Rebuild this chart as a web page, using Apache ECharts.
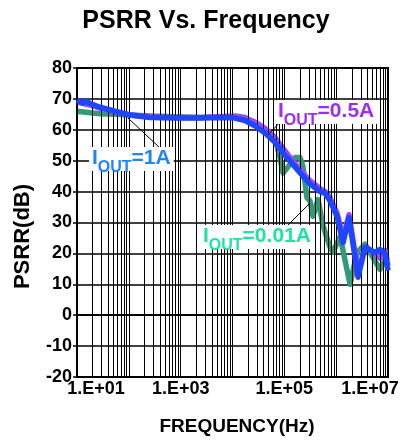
<!DOCTYPE html>
<html>
<head>
<meta charset="utf-8">
<script src="https://cdn.jsdelivr.net/npm/echarts@6/dist/echarts.min.js"></script>
<style>
  html, body { margin: 0; padding: 0; background: #fff; }
  #chart { width: 412px; height: 441px; }
</style>
</head>
<body>
<div id="chart"></div>
<script>
/* PSRR vs frequency, three load currents. [frequency Hz, PSRR dB] */
var iout001A = [
  [10, 66], [18, 65.5], [28, 65.2], [54, 65], [105, 64.8], [256, 64.5], [780, 64.2],
  [2400, 64], [7200, 64.2], [11200, 64.5], [17400, 64], [27200, 62], [42400, 59.5],
  [66100, 57], [80000, 52], [94400, 46], [118000, 48], [161000, 51], [201000, 51],
  [229000, 48], [274000, 38], [313000, 37], [357000, 32], [447000, 37.4], [557000, 29],
  [761000, 22], [869000, 20.3], [1.19e6, 25.5], [1.85e6, 10], [2.53e6, 20.3],
  [3.61e6, 23], [5.0e6, 19], [7.0e6, 14.8], [8.8e6, 18], [1e7, 19]
];
var iout05A = [
  [10, 69], [18, 68], [28, 67], [54, 65.8], [105, 64.8], [256, 64.2], [780, 64],
  [2400, 64], [7200, 64.3], [11200, 64.2], [17400, 63.8], [27200, 62.5], [42400, 60.5],
  [66100, 57.5], [94400, 54], [161000, 49], [229000, 46], [313000, 43.5], [488000, 41],
  [609000, 40], [761000, 38], [1.04e6, 33], [1.36e6, 25], [1.77e6, 32.5], [2.64e6, 14],
  [3.61e6, 22], [5.6e6, 20], [7.0e6, 18.5], [8.8e6, 21], [1e7, 16]
];
var iout1A = [
  [10, 69.7], [13, 68.6], [15, 69.3], [18, 68.5], [28, 67.3], [54, 66], [105, 64.8],
  [256, 64], [780, 63.8], [2400, 63.8], [7200, 64], [11200, 63.8], [17400, 63],
  [27200, 61.3], [42400, 59], [66100, 56], [94400, 52.5], [161000, 48], [229000, 45],
  [313000, 42.5], [488000, 40], [609000, 39.5], [761000, 37], [1.04e6, 32], [1.36e6, 23.5],
  [1.77e6, 31.5], [2.64e6, 12.3], [3.61e6, 22], [5.6e6, 20.3], [7.0e6, 21.3],
  [8.8e6, 19.7], [1e7, 14.5]
];

var decades = [10, 100, 1000, 10000, 100000, 1000000, 10000000];
var yMin = -20, yMax = 80, yStep = 10;

// vertical log grid: every decade plus 2..9 inside it
var gridFreqs = [];
decades.forEach(function (d, i) {
  gridFreqs.push(d);
  if (i < decades.length - 1) {
    for (var k = 2; k <= 9; k++) gridFreqs.push(d * k);
  }
});

var lblFont = 'Liberation Sans, Arial, sans-serif';

function xLabel(v) {
  var e = Math.round(Math.log10(v));
  if (e % 2 === 0) return '';
  var s = '1.E+' + (e < 10 ? '0' + e : e);
  if (e === 1) return '{l|' + s + '}';
  if (e === 7) return '{r|' + s + '}';
  return s;
}

// I with subscript OUT, on a white box
function note(x, y, tail, color) {
  return {
    type: 'text', left: x, top: y, z: 100,
    style: {
      text: '{a|I}{b|OUT}{a|' + tail + '}',
      backgroundColor: '#fff',
      padding: [1, 3, 1, 3],
      rich: {
        a: { fontSize: 21, fontWeight: 'bold', fontFamily: lblFont, fill: color, lineHeight: 22, verticalAlign: 'top' },
        b: { fontSize: 16, fontWeight: 'bold', fontFamily: lblFont, fill: color, lineHeight: 16, verticalAlign: 'top', padding: [12, 0, 0, 0] }
      }
    }
  };
}

function leader(x1, y1, x2, y2) {
  return { type: 'line', z: 100, shape: { x1: x1, y1: y1, x2: x2, y2: y2 }, style: { stroke: '#000', lineWidth: 1 } };
}

var chart = echarts.init(document.getElementById('chart'));
var option = {
  backgroundColor: '#fff',
  animation: false,
  title: {
    text: 'PSRR Vs. Frequency',
    left: 'center', top: 4,
    textStyle: { fontSize: 25, fontWeight: 'bold', color: '#000', fontFamily: lblFont }
  },
  grid: { left: 77, right: 24, top: 68, bottom: 63, show: true, borderColor: '#000', borderWidth: 2, backgroundColor: 'transparent' },
  xAxis: {
    type: 'log', logBase: 10, min: 10, max: 1e7, interval: 1, splitNumber: 6,
    name: 'FREQUENCY(Hz)', nameLocation: 'middle', nameGap: 40,
    nameTextStyle: { fontSize: 19, fontWeight: 'bold', color: '#000', fontFamily: lblFont, padding: [0, 0, 0, 9] },
    axisLine: { lineStyle: { color: '#000', width: 2 } },
    axisTick: { show: false },
    splitLine: { show: false },
    axisLabel: {
      margin: 3, fontSize: 18, fontWeight: 'bold', color: '#000', fontFamily: lblFont,
      formatter: xLabel,
      rich: {
        l: { fontSize: 18, fontWeight: 'bold', fontFamily: lblFont, padding: [0, 0, 0, 38] },
        r: { fontSize: 18, fontWeight: 'bold', fontFamily: lblFont, padding: [0, 36, 0, 0] }
      }
    }
  },
  yAxis: {
    type: 'value', min: yMin, max: yMax, interval: yStep,
    name: 'PSRR(dB)', nameLocation: 'middle', nameGap: 43, nameRotate: 90,
    nameTextStyle: { fontSize: 22, fontWeight: 'bold', color: '#000', fontFamily: lblFont, padding: [0, 28, 0, 0] },
    axisLine: { show: true, lineStyle: { color: '#000', width: 2 } },
    axisTick: { show: true, length: 4, lineStyle: { color: '#000', width: 1.5 } },
    splitLine: { show: true, lineStyle: { color: '#000', width: 1.5 } },
    axisLabel: { margin: 5, fontSize: 18, fontWeight: 'bold', color: '#000', fontFamily: lblFont }
  },
  series: [
    {
      name: 'grid', type: 'line', data: [], z: 1, silent: true,
      markLine: {
        silent: true, symbol: 'none', animation: false,
        label: { show: false },
        lineStyle: { color: '#000', width: 1, type: 'solid' },
        data: gridFreqs.map(function (f) { return { xAxis: f }; })
      }
    },
    {
      name: 'IOUT=0.01A', type: 'line', data: iout001A, z: 3, showSymbol: false,
      lineStyle: { color: '#2f9b7b', width: 5.5, join: 'round' }
    },
    {
      name: 'IOUT=0.5A', type: 'line', data: iout05A, z: 4, showSymbol: false,
      lineStyle: { color: '#9e45ff', width: 5.5, join: 'round' }
    },
    {
      name: 'IOUT=1A', type: 'line', data: iout1A, z: 5, showSymbol: false,
      lineStyle: { color: '#1e45ff', width: 5.5, join: 'round' }
    }
  ],
  graphic: [
    leader(160, 148, 128, 118),
    leader(282, 120, 268, 135),
    leader(283, 230, 310, 203),
    note(89, 147, '=1A', '#1f84ff'),
    note(275, 100, '=0.5A', '#9a2cff'),
    note(200, 225, '=0.01A', '#1fe3a3')
  ]
};
chart.setOption(option);
</script>
</body>
</html>
